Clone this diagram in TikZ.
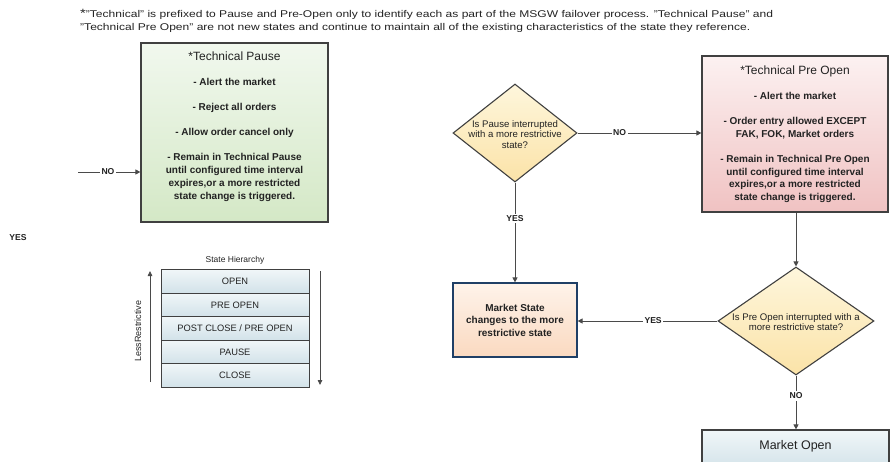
\documentclass[tikz,border=0pt]{standalone}
\usepackage{fontspec}
\setmainfont{Liberation Sans}
\usetikzlibrary{shapes.geometric,arrows.meta}
\definecolor{bord}{HTML}{404040}
\definecolor{lin}{HTML}{4A4A4A}
\definecolor{gtop}{HTML}{F1F8EE}
\definecolor{gbot}{HTML}{D4E8C6}
\definecolor{ptop}{HTML}{FCF1F1}
\definecolor{pbot}{HTML}{F0C2C2}
\definecolor{ytop}{HTML}{FEF6DC}
\definecolor{ybot}{HTML}{FBE3A8}
\definecolor{otop}{HTML}{FEF3EA}
\definecolor{obot}{HTML}{FAD9C0}
\definecolor{obord}{HTML}{1F3F66}
\definecolor{btop}{HTML}{F0F6F8}
\definecolor{bbot}{HTML}{D2E2E9}
\definecolor{txt}{HTML}{222222}
\begin{document}
\begin{tikzpicture}[x=1pt,y=-1pt,
  box/.style={draw=bord, line width=1.2pt, inner sep=0pt},
  btext/.style={align=center, inner sep=0pt, text=txt, font=\fontsize{10}{13}\selectfont\bfseries},
  dia/.style={diamond, draw=bord, line width=1.1pt, inner sep=0pt, top color=ytop, bottom color=ybot, minimum width=124pt, minimum height=98pt},
  dtext/.style={align=center, inner sep=0pt, text=txt, font=\fontsize{9.6}{10.5}\selectfont},
  conn/.style={draw=lin, line width=0.9pt},
  arr/.style={conn, -{Triangle[length=5pt,width=5pt]}},
  lab/.style={fill=white, inner sep=1.5pt, text=txt, font=\fontsize{8.6}{9}\selectfont\bfseries},
  row/.style={draw=bord, line width=1pt, top color=btop, bottom color=bbot, minimum width=148pt, minimum height=23.5pt, inner sep=0pt, text=txt, font=\fontsize{9.3}{10}\selectfont}
]
\useasboundingbox (0,0) rectangle (895,461);

% note
\node[anchor=west, inner sep=0pt, text=txt] (note) at (80,21.5)
 {\scalebox{1.23}[1]{\fontsize{9.8}{13.5}\selectfont\begin{tabular}{@{}l@{}}{\fontsize{12}{13}\selectfont *}"Technical" is prefixed to Pause and Pre-Open only to identify each as part of the MSGW failover process. "Technical Pause" and\\
 "Technical Pre Open" are not new states and continue to maintain all of the existing characteristics of the state they reference.\end{tabular}}};

% Technical Pause
\node[box, top color=gtop, bottom color=gbot, minimum width=187pt, minimum height=179pt] (tp) at (234.5,132.5) {};
\node[btext] (tpt) at (234.5,127) {{\fontsize{12}{14}\selectfont\mdseries *Technical Pause}\\[12pt]
- Alert the market\\[12pt]
- Reject all orders\\[12pt]
- Allow order cancel only\\[12pt]
- Remain in Technical Pause\\
until configured time interval\\
expires,or a more restricted\\
state change is triggered.};

% Technical Pre Open
\node[box, top color=ptop, bottom color=pbot, minimum width=186pt, minimum height=156pt] (po) at (795,134) {};
\node[btext, font=\fontsize{10}{12.5}\selectfont\bfseries] (pot) at (795,134) {{\fontsize{12}{14}\selectfont\mdseries *Technical Pre Open}\\[12.5pt]
- Alert the market\\[13pt]
- Order entry allowed EXCEPT\\
FAK, FOK, Market orders\\[13pt]
- Remain in Technical Pre Open\\
until configured time interval\\
expires,or a more restricted\\
state change is triggered.};

% diamonds
\node[dia] (d1) at (515,133) {};
\node[dtext] (d1t) at (515,134.5) {Is Pause interrupted\\with a more restrictive\\state?};
\node[dia, minimum width=156pt, minimum height=108pt] (d2) at (796,321) {};
\node[dtext] (d2t) at (796,322) {Is Pre Open interrupted with a\\more restrictive state?};

% Market State
\node[box, draw=obord, top color=otop, bottom color=obot, minimum width=124pt, minimum height=74pt] (ms) at (515,320) {};
\node[btext, font=\fontsize{10}{12.5}\selectfont\bfseries] (mst) at (515,320) {Market State\\changes to the more\\restrictive state};

% Market Open
\node[box, top color=btop, bottom color=bbot, minimum width=187pt, minimum height=40pt] (mo) at (795.5,450) {};
\node[inner sep=0pt, text=txt, font=\fontsize{12.5}{14}\selectfont] (mot) at (795.5,446) {Market Open};

% connectors
\coordinate (n0) at (78,172);
\draw[arr] (n0) -- node[lab, pos=0.48] {NO} (n0 -| tp.west);
\draw[arr] (d1.east) -- node[lab, pos=0.34] {NO} (d1.east -| po.west);
\draw[arr] (d1.south) -- node[lab, pos=0.36] {YES} (ms.north);
\draw[arr] (po.south -| d2.north) -- (d2.north);
\draw[arr] (d2.west) -- node[lab, pos=0.46] {YES} (d2.west -| ms.east);
\draw[arr] (d2.south) -- node[lab, pos=0.38] {NO} (d2.south |- mo.north);

% stray YES
\node[inner sep=0pt, text=txt, font=\fontsize{8.6}{9}\selectfont\bfseries] (yes0) at (18,238) {YES};

% State hierarchy
\node[inner sep=0pt, text=txt, font=\fontsize{8.5}{10}\selectfont] (sht) at (235,260) {State Hierarchy};
\node[row] (r1) at (235,281.5) {OPEN};
\node[row] (r2) at (235,305) {PRE OPEN};
\node[row] (r3) at (235,328.5) {POST CLOSE / PRE OPEN};
\node[row] (r4) at (235,352) {PAUSE};
\node[row] (r5) at (235,375.5) {CLOSE};
\coordinate (ua) at (150,382);
\coordinate (ub) at (150,271);
\coordinate (da) at (320,271);
\coordinate (db) at (320,385);
\draw[conn, -{Triangle[length=5pt,width=4.5pt]}, line width=0.8pt] (ua) -- (ub);
\draw[conn, -{Triangle[length=5pt,width=4.5pt]}, line width=0.8pt] (da) -- (db);
\node[rotate=90, inner sep=0pt, text=txt, font=\fontsize{9}{10}\selectfont] (lr) at (138,331) {LessRestrictive};
\end{tikzpicture}
\end{document}
